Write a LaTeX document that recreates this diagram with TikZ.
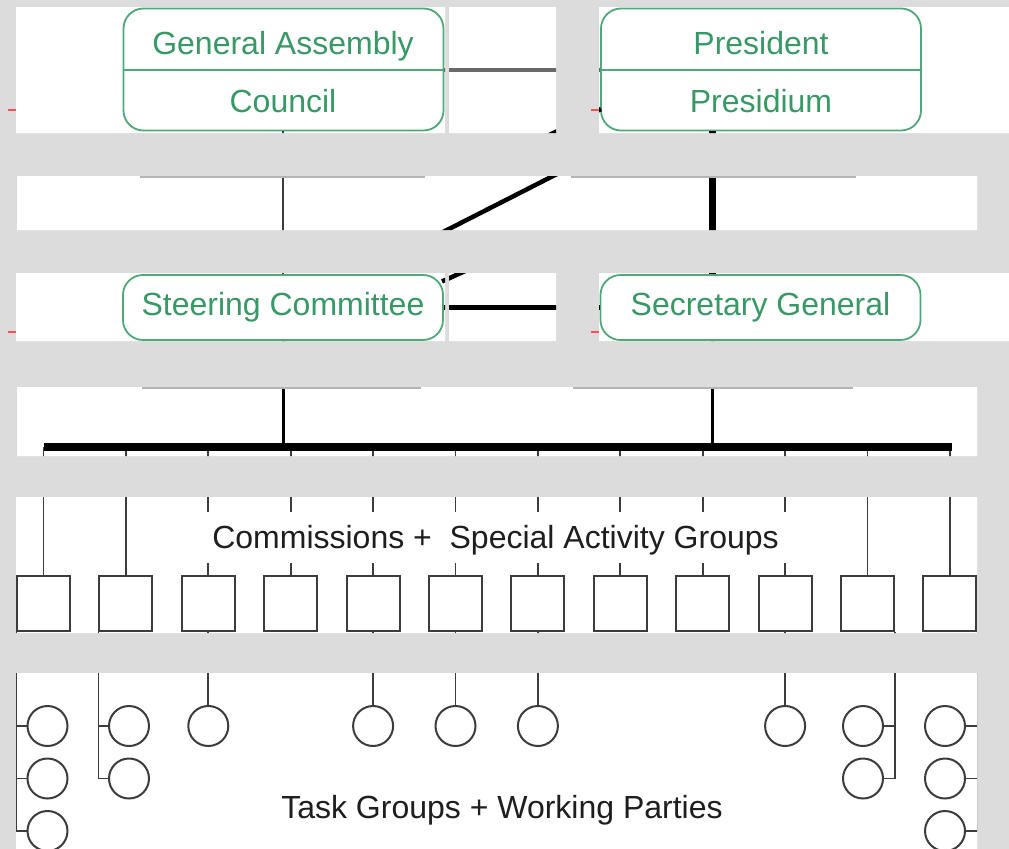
\documentclass[tikz,border=0pt]{standalone}
\usepackage{fontspec}
\setmainfont{Liberation Sans}
\definecolor{bandgray}{RGB}{220,220,220}
\definecolor{orggreen}{RGB}{80,168,122}
\definecolor{orgtext}{RGB}{56,152,102}
\definecolor{inkgray}{RGB}{60,60,60}
\definecolor{inkdark}{RGB}{30,30,30}
\definecolor{linegray}{RGB}{105,105,105}
\definecolor{seamgray}{RGB}{180,180,180}
\definecolor{markred}{RGB}{250,80,80}
\begin{document}
\begin{tikzpicture}[x=1bp,y=-1bp,
  gbox/.style={draw=orggreen,line width=1.8bp,rounded corners=20bp,fill=white,inner sep=0pt,minimum width=320bp},
  glabel/.style={text=orgtext,anchor=base,inner sep=0pt,font=\fontsize{32.12}{38}\selectfont},
  caption/.style={text=inkdark,anchor=base,font=\fontsize{32.12}{38}\selectfont},
  sqbox/.style={draw=inkgray,line width=2bp,minimum width=53bp,minimum height=55bp,inner sep=0pt,fill=white},
  ring/.style={circle,draw=inkgray,line width=2bp,minimum size=40bp,inner sep=0pt,fill=white},
  tree/.style={draw=inkgray,line width=1.8bp},
  divider/.style={draw=orggreen,line width=1.8bp}]
\useasboundingbox (0,0) rectangle (1009,849);
\fill[bandgray] (0,0) rectangle (1009,849);

\begin{scope}
% white panels of the chart
\clip (16,7) rectangle (445,133) (449,7) rectangle (556,133) (599,7) rectangle (1009,133)
      (17,176) rectangle (977,230)
      (16,273) rectangle (445,341) (449,273) rectangle (556,341) (599,273) rectangle (1009,341)
      (17,387) rectangle (977,456)
      (16,497) rectangle (977,633)
      (16,673) rectangle (977,849);
\fill[white] (0,0) rectangle (1009,849);

% governing bodies
\node[gbox,minimum height=122bp] (gab) at (283.5,69.5) {};
\node[gbox,minimum height=122bp] (prb) at (761,69.5) {};
\node[gbox,minimum height=65bp] (st) at (283,307.5) {};
\node[gbox,minimum height=65bp] (sg) at (760.5,307.5) {};
\coordinate (gmid) at (0,70);
\draw[divider] (gab.west |- gmid) -- (gab.east |- gmid);
\draw[divider] (prb.west |- gmid) -- (prb.east |- gmid);
\node[glabel] (tga) at (283,54) {General Assembly};
\node[glabel] (tco) at (283,112) {Council};
\node[glabel] (tpr) at (761,54) {President};
\node[glabel] (tpm) at (761,112) {Presidium};
\node[glabel] (tst) at (283,315.5) {Steering Committee};
\node[glabel] (tsg) at (760.5,315.5) {Secretary General};

% links between the bodies
\draw[linegray,line width=3.5bp] (gab.east |- gmid) -- (prb.west |- gmid);
\draw[inkgray,line width=1.2bp] (st.north) -- (st.north |- gab.south);
\coordinate (sgx) at (712,0);
\draw[black,line width=7bp] (prb.south -| sgx) -- (sg.north -| sgx);
\draw[black,line width=5.5bp] (st.east) -- (sg.west);
\coordinate (d0) at (442,281.5);
\coordinate (d1) at (490,259.7);
\coordinate (d2) at (407.7,250);
\coordinate (d3) at (594.3,155);
\coordinate (d4) at (519.6,150);
\coordinate (d5) at (601,109);
\draw[black,line width=4.5bp,line join=round] (d0) -- (d1) -- (d2) -- (d3) -- (d4) -- (d5);

% distribution bar
\coordinate (busL) at (44,447);
\coordinate (busR) at (952,447);
\draw[black,line width=3bp] (st.south) -- (st.south |- busL);
\draw[black,line width=3bp] (sg.south -| sgx) -- (busL -| sgx);

% commissions
\foreach \i in {0,...,11} {
  \node[sqbox] (sq\i) at ({43.5+82.4*\i},603.5) {};
  \draw[tree] (sq\i.north |- busL) -- (sq\i.north);
}
\draw[black,line width=8bp] (busL) -- (busR);
\node[caption,fill=white,inner xsep=8bp,inner ysep=0pt,text height=36bp,text depth=15bp]
  (comm) at (495.5,548) {Commissions +\ \ Special Activity Groups};

% task groups
\node[ring] (c0a) at (47.5,726) {};
\node[ring] (c0b) at (47.5,778.5) {};
\node[ring] (c0c) at (47.5,831) {};
\node[ring] (c1a) at (129,726) {};
\node[ring] (c1b) at (129,778.5) {};
\foreach \i in {2,4,5,6,9} {
  \node[ring] (c\i) at ({43.5+82.4*\i},726) {};
  \draw[tree] (sq\i.south) -- (c\i.north);
}
\node[ring] (c10a) at (863,726) {};
\node[ring] (c10b) at (863,778.5) {};
\node[ring] (c11a) at (945,726) {};
\node[ring] (c11b) at (945,778.5) {};
\node[ring] (c11c) at (945,831) {};
\draw[tree] (sq0.south west) |- (c0c.west);
\draw[tree] (c0a.west) -- (c0a.west -| sq0.south west);
\draw[tree] (c0b.west) -- (c0b.west -| sq0.south west);
\draw[tree] (sq1.south west) |- (c1b.west);
\draw[tree] (c1a.west) -- (c1a.west -| sq1.south west);
\draw[tree] (sq10.south east) |- (c10b.east);
\draw[tree] (c10a.east) -- (c10a.east -| sq10.south east);
\draw[tree] (sq11.south east) |- (c11c.east);
\draw[tree] (c11a.east) -- (c11a.east -| sq11.south east);
\draw[tree] (c11b.east) -- (c11b.east -| sq11.south east);
\node[caption] (task) at (502,818) {Task Groups + Working Parties};
\end{scope}

% seams along panel edges
\draw[seamgray,line width=1.5bp] (140,176.8) -- (425,176.8) (571,176.8) -- (856,176.8)
  (142,387.8) -- (421,387.8) (573,387.8) -- (853,387.8);
% small red marks at the panel edges
\draw[markred,line width=1.5bp] (8,110) -- (16,110) (591,110) -- (599,110)
  (8,332) -- (16,332) (591,332) -- (599,332);
\end{tikzpicture}
\end{document}
